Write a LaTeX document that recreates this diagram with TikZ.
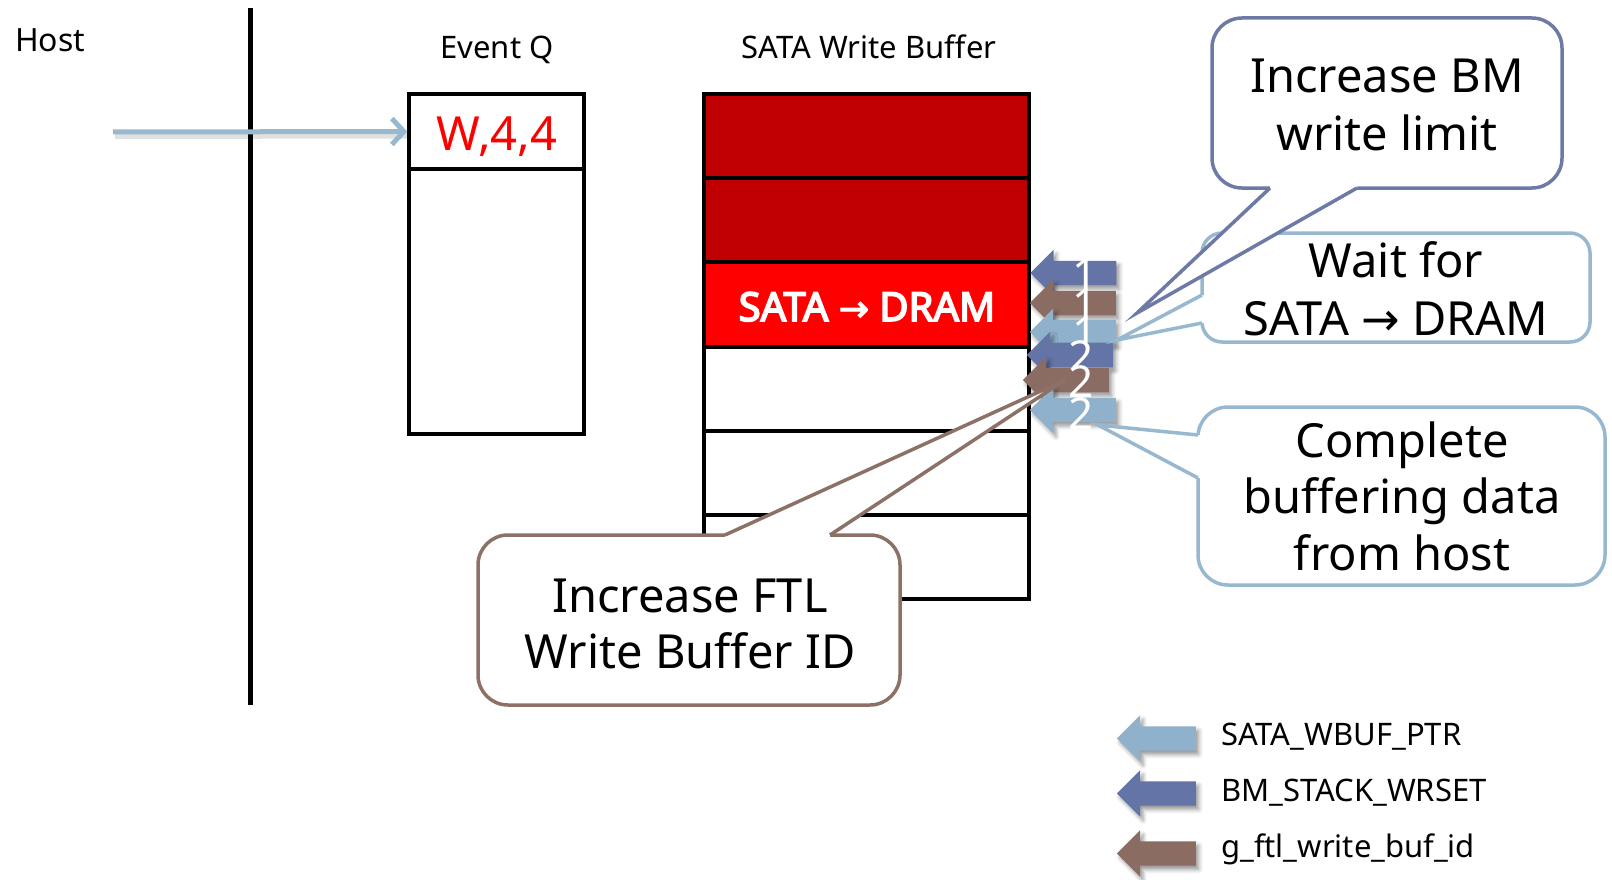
\documentclass[tikz,border=0pt]{standalone}
\usepackage{fontspec}
\setmainfont{Noto Sans}
\newfontfamily\symfont{DejaVu Sans}
\newfontfamily\heavyfont{Noto Sans}[FakeBold=4]
\newfontfamily\heavysym{DejaVu Sans}[FakeBold=3]
\usetikzlibrary{shapes.arrows,shadows.blur,arrows.meta}

\definecolor{darkred}{RGB}{192,0,0}
\definecolor{brightred}{RGB}{255,0,0}
\definecolor{slate}{RGB}{101,116,166}
\definecolor{mocha}{RGB}{138,108,98}
\definecolor{skyblue}{RGB}{143,177,203}
\definecolor{slateline}{RGB}{110,122,166}
\definecolor{mochaline}{RGB}{140,113,103}
\definecolor{skyline}{RGB}{152,184,208}

\tikzset{
  cell/.style={draw=black, line width=4pt, minimum width=325pt, minimum height=84.2pt, inner sep=0pt},
  qcell/.style={draw=black, line width=3.5pt, minimum width=175pt, inner sep=0pt},
  blockarrow/.style={single arrow, shape border rotate=180, single arrow head extend=11pt,
    single arrow tip angle=90, inner xsep=0pt, inner ysep=12pt, draw=none,
    blur shadow={shadow xshift=3pt, shadow yshift=-4pt, shadow blur radius=4pt, shadow opacity=40}},
  ptr/.style={blockarrow, minimum height=86pt},
  legarrow/.style={blockarrow, minimum height=79pt},
  digit/.style={text=white, inner sep=0pt, font=\fontsize{44}{50}\selectfont},
  callbox/.style={fill=white, line width=3.5pt, inner sep=0pt},
  tailline/.style={line width=3.5pt, line join=miter},
  calltext/.style={anchor=base, inner sep=0pt, font=\fontsize{47}{56}\selectfont},
  smalltext/.style={inner sep=0pt, font=\fontsize{31}{37}\selectfont},
}

\begin{document}
\begin{tikzpicture}[x=1pt,y=-1pt]
\useasboundingbox (0,0) rectangle (1612,880);

% host side and its lifeline
\node[smalltext, anchor=base west, font=\fontsize{32}{38}\selectfont] (host) at (15,52) {Host};
\coordinate (lifetop) at (250,8);
\coordinate (lifebot) at (250,705);
\draw[line width=5pt] (lifetop) -- (lifebot);

% event queue
\node[smalltext, anchor=base] (qlabel) at (497,59) {Event Q};
\node[qcell, minimum height=75pt] (qtop) at (496.5,131.5) {};
\node[qcell, minimum height=265pt] (qrest) at (496.5,301.5) {};
\node[anchor=base, inner sep=0pt, text=brightred, font=\fontsize{47}{56}\selectfont] (qentry) at (497,151) {W,4,4};

% command arriving from the host
\coordinate (hoststart) at (113,132);
\draw[line width=6pt, black, opacity=0.12, transform canvas={shift={(2pt,-4pt)}}] (hoststart) -- (qtop.west);
\draw[line width=5pt, skyline, -{Straight Barb[length=12pt,width=26pt]}] (hoststart) -- (qtop.west);

% SATA write buffer
\node[smalltext, anchor=base] (blabel) at (869,59) {SATA Write Buffer};
\node[cell, fill=darkred] (b1) at (866.5,136.1) {};
\node[cell, fill=darkred] (b2) at (866.5,220.3) {};
\node[cell, fill=brightred] (b3) at (866.5,304.5) {};
\node[cell] (b4) at (866.5,388.7) {};
\node[cell] (b5) at (866.5,472.9) {};
\node[cell] (b6) at (866.5,557.1) {};
\node[anchor=base, inner sep=0pt, text=white, font=\heavyfont\fontsize{40}{48}\selectfont] (b3text) at (867,321)
  {SATA {\heavysym\fontsize{36}{40}\selectfont →} DRAM};

% pointer markers with their step numbers
\node[ptr, fill=slate] (p1) at (1079.5,273) {};
\node[digit] (d1) at (1085,275) {1};
\node[ptr, fill=mocha] (p2) at (1079,303) {};
\node[digit] (d2) at (1085,305) {1};
\node[ptr, fill=skyblue] (p3) at (1079,332) {};
\node[digit] (d3) at (1085,333) {1};
\node[ptr, fill=slate] (p4) at (1076,355) {};
\node[digit] (d4) at (1081,357) {2};
\node[ptr, fill=mocha] (p5) at (1072,380) {};
\node[digit] (d5) at (1081,382) {2};
\node[ptr, fill=skyblue] (p6) at (1079,410) {};
\node[digit] (d6) at (1081,414) {2};

% callout: wait for transfer
\node[callbox, draw=skyline, rounded corners=20pt, minimum width=388pt, minimum height=109pt] (waitbox) at (1396,287.5) {};
\coordinate (waitA) at (1202,295);
\coordinate (waitB) at (1202,323);
\coordinate (waittip) at (1117,340);
\fill[white] (waitA) -- (waittip) -- (waitB) -- (1211,323) -- (1211,295) -- cycle;
\draw[tailline, skyline] (waitA) -- (waittip) -- (waitB);
\node[calltext] (wait1) at (1396,277) {Wait for};
\node[calltext] (wait2) at (1396,335) {SATA {\symfont\fontsize{46}{50}\selectfont →} DRAM};

% callout: buffer manager limit
\node[callbox, draw=slateline, rounded corners=30pt, minimum width=350pt, minimum height=170pt] (bmbox) at (1387,103) {};
\coordinate (bmA) at (1270,188);
\coordinate (bmB) at (1357,188);
\coordinate (bmtip) at (1137,313);
\fill[white] (bmA) -- (bmtip) -- (bmB) -- (1357,179) -- (1270,179) -- cycle;
\draw[tailline, slateline] (bmA) -- (bmtip) -- (bmB);
\node[calltext] (bm1) at (1387,93) {Increase BM};
\node[calltext] (bm2) at (1387,150) {write limit};

% callout: buffering complete
\node[callbox, draw=skyline, rounded corners=30pt, minimum width=407pt, minimum height=178pt] (donebox) at (1401.5,496) {};
\coordinate (doneA) at (1198,435);
\coordinate (doneB) at (1198,478);
\coordinate (donetip) at (1098,425);
\fill[white] (doneA) -- (donetip) -- (doneB) -- (1207,478) -- (1207,435) -- cycle;
\draw[tailline, skyline] (doneA) -- (donetip) -- (doneB);
\node[calltext] (done1) at (1402,457) {Complete};
\node[calltext] (done2) at (1402,513) {buffering data};
\node[calltext] (done3) at (1402,570) {from host};

% callout: FTL buffer id
\node[callbox, draw=mochaline, rounded corners=30pt, minimum width=422pt, minimum height=170pt] (ftlbox) at (689,620) {};
\coordinate (ftlA) at (725,535);
\coordinate (ftlB) at (830,535);
\coordinate (ftltip) at (1065,380);
\fill[white] (ftlA) -- (ftltip) -- (ftlB) -- (830,544) -- (725,544) -- cycle;
\draw[tailline, mochaline] (ftlA) -- (ftltip) -- (ftlB);
\node[calltext] (ftl1) at (690,612) {Increase FTL};
\node[calltext] (ftl2) at (690,668) {Write Buffer ID};

% legend
\node[legarrow, fill=skyblue] (l1) at (1162.5,738.5) {};
\node[smalltext, anchor=base west] (l1text) at (1221,745) {SATA\_WBUF\_PTR};
\node[legarrow, fill=slate] (l2) at (1162.5,793.5) {};
\node[smalltext, anchor=base west] (l2text) at (1221,801) {BM\_STACK\_WRSET};
\node[legarrow, fill=mocha] (l3) at (1162.5,853.5) {};
\node[smalltext, anchor=base west] (l3text) at (1221,857) {g\_ftl\_write\_buf\_id};
\end{tikzpicture}
\end{document}
